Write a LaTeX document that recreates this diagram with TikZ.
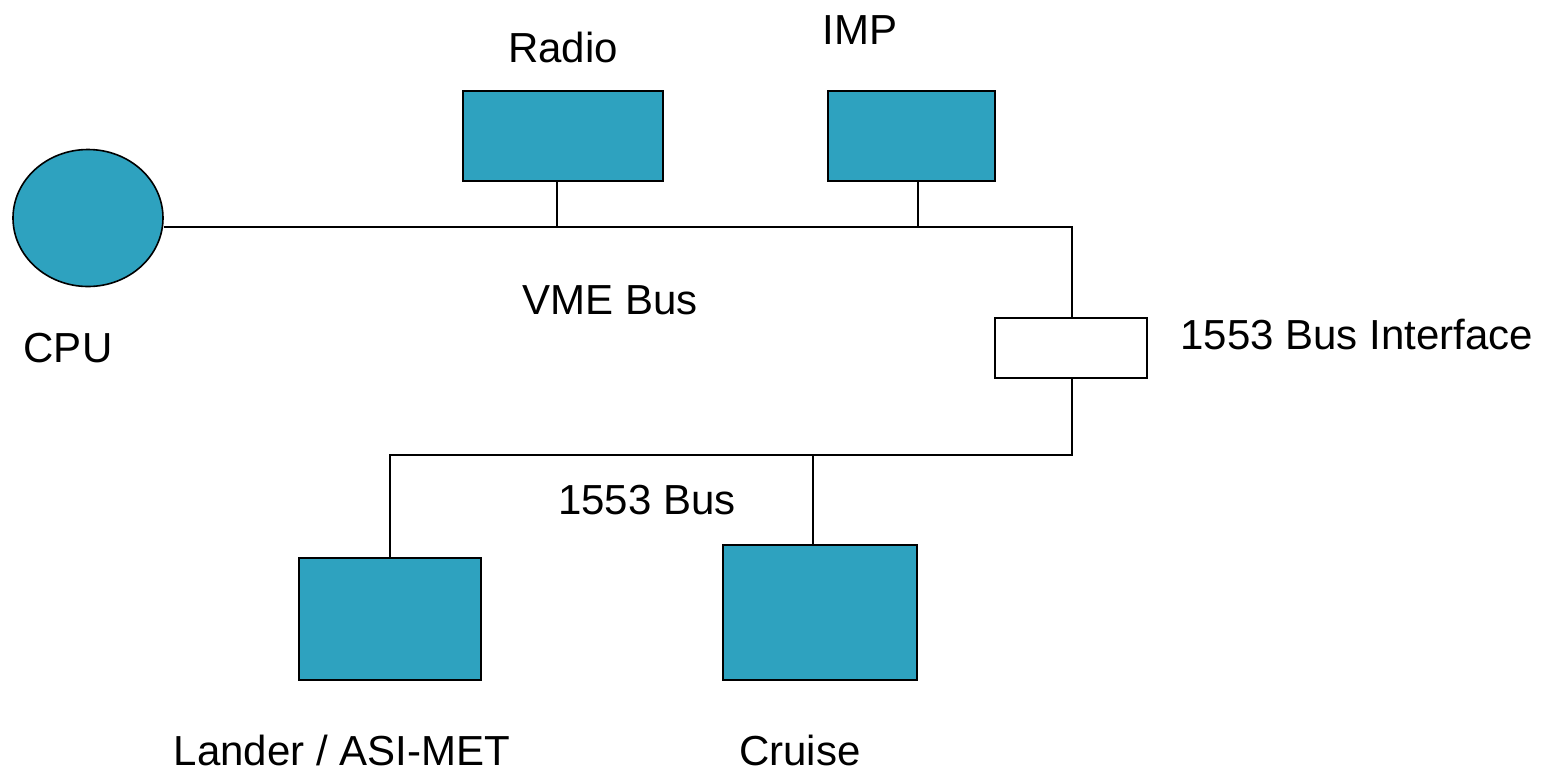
\documentclass[tikz,border=0pt]{standalone}
\usepackage{fontspec}
\setmainfont{Liberation Sans}
\usetikzlibrary{positioning, shapes.geometric, calc}

\definecolor{unitteal}{RGB}{46,162,191}

\begin{document}
\begin{tikzpicture}[
	x=0.5pt, y=-0.5pt,
	% --- ESTILOS ---
	unit/.style={
		rectangle, draw, fill=unitteal, line width=0.8pt, inner sep=0pt
	},
	cpublock/.style={
		ellipse, draw, fill=unitteal, line width=0.8pt, inner sep=0pt,
		minimum width=75pt, minimum height=68.5pt
	},
	ifblock/.style={
		rectangle, draw, fill=white, line width=0.8pt, inner sep=0pt,
		minimum width=76pt, minimum height=30pt
	},
	bus/.style={
		draw, line width=0.8pt
	},
	lbl/.style={
		font=\fontsize{21}{25}\selectfont, inner sep=0pt
	}
	]
	\useasboundingbox (0,0) rectangle (1553,778);
	
	% --- 1. VME Bus ---
	\node [cpublock] (cpu) at (88,218) {};
	\node [lbl] (cpu_lbl) at (68,348) {CPU};
	
	\node [unit, minimum width=100pt, minimum height=45pt] (radio) at (563,136) {};
	\node [lbl] (radio_lbl) at (563,47) {Radio};
	
	\node [unit, minimum width=83.5pt, minimum height=45pt] (imp) at (911.5,136) {};
	\node [lbl] (imp_lbl) at (860,30) {IMP};
	
	\node [ifblock] (bif) at (1071,348) {};
	\node [lbl, anchor=west] (bif_lbl) at (1180,334) {1553 Bus Interface};
	
	\coordinate (vme_end) at (1072,227);
	\coordinate (tap_radio) at (557,227);
	\coordinate (tap_imp) at (918,227);
	
	\draw [bus] (cpu.east |- vme_end) -- (vme_end) -- (vme_end |- bif.north);
	\draw [bus] (tap_radio) -- (tap_radio |- radio.south);
	\draw [bus] (tap_imp) -- (tap_imp |- imp.south);
	\node [lbl] (vme_lbl) at (610,300) {VME Bus};
	
	% --- 2. 1553 Bus ---
	\node [unit, minimum width=91pt, minimum height=61pt] (lander) at (390,619) {};
	\node [lbl] (lander_lbl) at (342,750) {Lander / ASI-MET};
	
	\node [unit, minimum width=97pt, minimum height=67.5pt] (cruise) at (820,612.5) {};
	\node [lbl] (cruise_lbl) at (800,750) {Cruise};
	
	\coordinate (mil_end) at (1072,455);
	\coordinate (mil_left) at (390,455);
	\coordinate (tap_cruise) at (813,455);
	
	\draw [bus] (mil_end |- bif.south) -- (mil_end) -- (mil_left) -- (lander.north);
	\draw [bus] (tap_cruise) -- (tap_cruise |- cruise.north);
	\node [lbl] (mil_lbl) at (647,500) {1553 Bus};
	
\end{tikzpicture}
\end{document}
